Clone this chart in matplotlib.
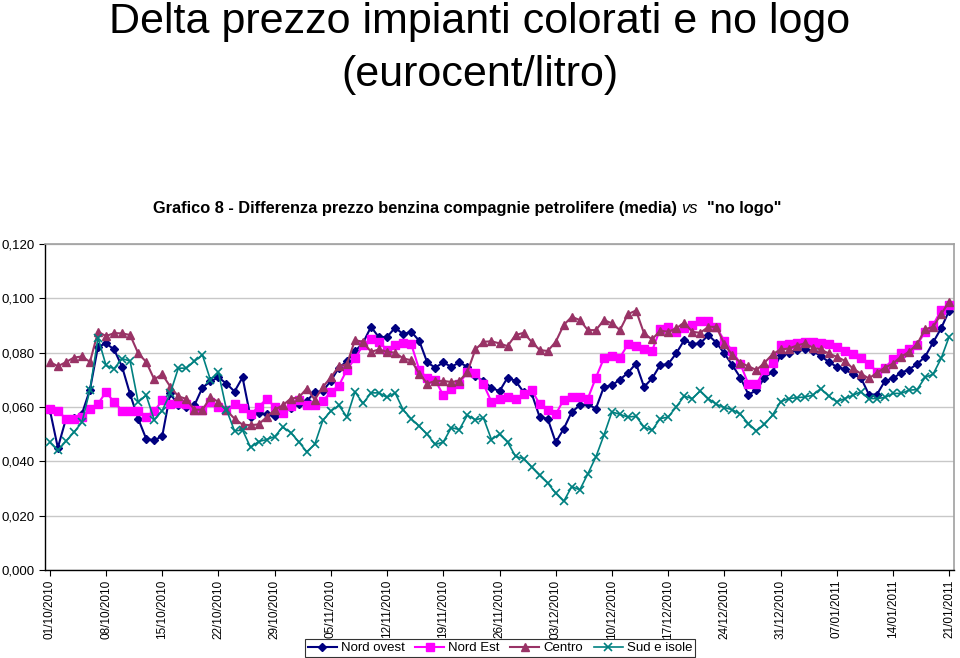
import numpy as np
import matplotlib
matplotlib.use("Agg")
import matplotlib.pyplot as plt
from matplotlib.ticker import FuncFormatter
from matplotlib import font_manager

names = {f.name for f in font_manager.fontManager.ttflist}
narrow = "Liberation Sans Narrow" if "Liberation Sans Narrow" in names else "Liberation Sans"
plt.rcParams['font.family'] = ['Liberation Sans', 'DejaVu Sans']

# tick labels, one every 7 days
date_labels = ['01/10/2010', '08/10/2010', '15/10/2010', '22/10/2010', '29/10/2010',
               '05/11/2010', '12/11/2010', '19/11/2010', '26/11/2010', '03/12/2010',
               '10/12/2010', '17/12/2010', '24/12/2010', '31/12/2010', '07/01/2011',
               '14/01/2011', '21/01/2011']

nord_ovest = [0.059, 0.045, 0.0555, 0.056, 0.0575, 0.0664, 0.0822, 0.0834, 0.0812, 0.0748,
              0.0647, 0.0557, 0.0483, 0.0477, 0.0493, 0.065, 0.0606, 0.060, 0.0606, 0.0671,
              0.0694, 0.0709, 0.0686, 0.0657, 0.0709, 0.0562, 0.0579, 0.0573, 0.0567, 0.0586,
              0.0595, 0.061, 0.0622, 0.0654, 0.0659, 0.0696, 0.0745, 0.0768, 0.0805, 0.0836,
              0.0895, 0.0856, 0.0858, 0.0892, 0.0868, 0.0877, 0.0844, 0.0764, 0.0745, 0.0764,
              0.0748, 0.0764, 0.0748, 0.0713, 0.0696, 0.0671, 0.0658, 0.0708, 0.0696, 0.0655,
              0.065, 0.0563, 0.0557, 0.047, 0.052, 0.0582, 0.0606, 0.061, 0.0594, 0.0674,
              0.068, 0.0701, 0.0726, 0.076, 0.0674, 0.0705, 0.0754, 0.0758, 0.0797, 0.0846,
              0.0832, 0.0834, 0.0865, 0.0837, 0.0797, 0.0754, 0.0708, 0.0646, 0.0661, 0.0708,
              0.0729, 0.0791, 0.080, 0.081, 0.0812, 0.0806, 0.0788, 0.0766, 0.0748, 0.0739,
              0.072, 0.0708, 0.0646, 0.0646, 0.0696, 0.0705, 0.0726, 0.0738, 0.0758, 0.0785,
              0.0838, 0.089, 0.0955]

nord_est = [0.0591, 0.0587, 0.0556, 0.0554, 0.0565, 0.0591, 0.0612, 0.0655, 0.0618, 0.0587,
            0.0587, 0.0587, 0.0565, 0.0585, 0.0624, 0.0612, 0.0614, 0.0612, 0.059, 0.059,
            0.0619, 0.060, 0.059, 0.0611, 0.0596, 0.0574, 0.060, 0.063, 0.0601, 0.0578,
            0.0604, 0.0625, 0.0606, 0.0609, 0.0622, 0.0656, 0.0679, 0.0737, 0.0779, 0.0828,
            0.0849, 0.084, 0.081, 0.0828, 0.0834, 0.0832, 0.0738, 0.0705, 0.0699, 0.0643,
            0.0668, 0.0686, 0.0729, 0.0726, 0.0684, 0.0619, 0.063, 0.0637, 0.0631, 0.0647,
            0.0664, 0.061, 0.059, 0.0573, 0.0627, 0.0635, 0.0635, 0.0631, 0.0708, 0.0779,
            0.0787, 0.0782, 0.0831, 0.0824, 0.0812, 0.0807, 0.0886, 0.0895, 0.0877, 0.0889,
            0.0902, 0.0918, 0.0918, 0.0895, 0.0844, 0.0807, 0.0758, 0.0684, 0.0684, 0.0738,
            0.0763, 0.0828, 0.0831, 0.0834, 0.084, 0.084, 0.0836, 0.0831, 0.0822, 0.0807,
            0.0794, 0.0779, 0.076, 0.0729, 0.0745, 0.0775, 0.0797, 0.0812, 0.0828, 0.0877,
            0.0902, 0.0957, 0.0975]

centro = [0.0766, 0.075, 0.0765, 0.0782, 0.0786, 0.0766, 0.0877, 0.0861, 0.0872, 0.0871,
          0.0865, 0.0798, 0.0766, 0.0702, 0.072, 0.0675, 0.0639, 0.063, 0.059, 0.059,
          0.0635, 0.0619, 0.0588, 0.0557, 0.0535, 0.0533, 0.0536, 0.0563, 0.059, 0.0606,
          0.0631, 0.0635, 0.0668, 0.0627, 0.0674, 0.0709, 0.075, 0.0758, 0.0846, 0.084,
          0.0803, 0.0812, 0.0803, 0.080, 0.0779, 0.0772, 0.0723, 0.0686, 0.0696, 0.0696,
          0.0692, 0.0696, 0.0729, 0.0812, 0.084, 0.0842, 0.0834, 0.0824, 0.0865, 0.0873,
          0.084, 0.081, 0.0806, 0.084, 0.0902, 0.0932, 0.092, 0.0883, 0.0883, 0.092,
          0.0908, 0.0883, 0.0942, 0.0955, 0.0871, 0.0849, 0.0881, 0.0877, 0.0889, 0.0911,
          0.0877, 0.0873, 0.0895, 0.0895, 0.0831, 0.0791, 0.0763, 0.075, 0.0736, 0.0763,
          0.0794, 0.0812, 0.0815, 0.0826, 0.0834, 0.0819, 0.0812, 0.0797, 0.0785, 0.077,
          0.0742, 0.0723, 0.0705, 0.0726, 0.0745, 0.076, 0.0785, 0.0803, 0.0831, 0.0886,
          0.0895, 0.0942, 0.0988]

sud_isole = [0.047, 0.044, 0.0474, 0.0507, 0.0544, 0.0663, 0.0855, 0.0753, 0.0741, 0.0778,
             0.0769, 0.0618, 0.0643, 0.0553, 0.0587, 0.0651, 0.0743, 0.0743, 0.0768, 0.0792,
             0.070, 0.0727, 0.059, 0.0512, 0.0515, 0.0451, 0.0473, 0.048, 0.0491, 0.0526,
             0.0506, 0.0472, 0.0435, 0.0463, 0.0551, 0.0585, 0.0606, 0.0563, 0.0656, 0.0613,
             0.0652, 0.0652, 0.0635, 0.0652, 0.059, 0.0557, 0.0529, 0.0499, 0.0462, 0.0471,
             0.0524, 0.0517, 0.057, 0.0553, 0.056, 0.048, 0.050, 0.0471, 0.0418, 0.041,
             0.0379, 0.0348, 0.032, 0.0283, 0.0253, 0.0307, 0.0295, 0.0354, 0.0416, 0.0496,
             0.0582, 0.0573, 0.0563, 0.0566, 0.0526, 0.0514, 0.0557, 0.0563, 0.060, 0.064,
             0.0631, 0.0659, 0.0631, 0.061, 0.0598, 0.059, 0.0573, 0.0539, 0.0512, 0.0536,
             0.057, 0.0619, 0.0631, 0.0634, 0.0637, 0.0643, 0.0668, 0.064, 0.0619, 0.0631,
             0.0643, 0.0656, 0.0631, 0.0631, 0.0635, 0.065, 0.065, 0.0662, 0.0664, 0.0709,
             0.0721, 0.0779, 0.0859]

fig = plt.figure(figsize=(9.6, 6.58), dpi=100)
ax = fig.add_axes([45/960, 88/658, 909/960, 326/658])

x = np.arange(len(nord_ovest))
ax.plot(x, nord_ovest, color='#000080', lw=1.5, marker='D', ms=4.5, label='Nord ovest', zorder=3)
ax.plot(x, nord_est, color='#FF00FF', lw=1.5, marker='s', ms=5.5, label='Nord Est', zorder=3)
ax.plot(x, centro, color='#993366', lw=1.5, marker='^', ms=6, label='Centro', zorder=3)
ax.plot(x, sud_isole, color='#008080', lw=1.2, marker='x', ms=6, mew=1.2, label='Sud e isole', zorder=3)

ax.set_xlim(-0.6, 112.6)
ax.set_ylim(0, 0.12)
ax.set_yticks(np.arange(0, 0.1201, 0.02))
ax.yaxis.set_major_formatter(FuncFormatter(lambda v, p: f'{v:.3f}'.replace('.', ',')))
ax.set_xticks(np.arange(0, len(nord_ovest), 7))
ax.set_xticklabels(date_labels, rotation=90, fontsize=8.5)
ax.tick_params(axis='y', labelsize=9.5, length=4, direction='out')
ax.tick_params(axis='x', length=4, direction='out', pad=3)
ax.grid(axis='y', color='#c8c8c8', lw=1)
ax.set_axisbelow(True)
for s in ['top', 'right']:
    ax.spines[s].set_color('#a0a0a0')
    ax.spines[s].set_linewidth(1.2)
for s in ['left', 'bottom']:
    ax.spines[s].set_color('black')
    ax.spines[s].set_linewidth(1)

leg = fig.legend(loc='center', bbox_to_anchor=(500/960, 1 - 648/658), ncol=4, fontsize=9.5,
                 frameon=True, fancybox=False, edgecolor='black', handlelength=2.2,
                 handletextpad=0.3, columnspacing=0.8, borderpad=0.25)
leg.get_frame().set_linewidth(0.8)

fig.text(0.5, 1 - 33/658, 'Delta prezzo impianti colorati e no logo', ha='center', va='baseline',
         fontsize=31, family=narrow)
fig.text(0.5, 1 - 86/658, '(eurocent/litro)', ha='center', va='baseline',
         fontsize=31, family=narrow)

# subtitle with italic "vs"
r = fig.canvas.get_renderer()
parts = [('Grafico 8 - Differenza prezzo benzina compagnie petrolifere (media) ', 'bold', 'normal'),
         ('vs', 'normal', 'italic'),
         ('  "no logo"', 'bold', 'normal')]
texts = []
for s, w, st in parts:
    t = fig.text(0, 1 - 208/658, s, ha='left', va='center', fontsize=11.8, weight=w, style=st)
    texts.append(t)
widths = [t.get_window_extent(r).width for t in texts]
start = 467 - sum(widths) / 2
for t, w in zip(texts, widths):
    t.set_x(start / 960)
    start += w

fig.savefig('out.png', dpi=100)
